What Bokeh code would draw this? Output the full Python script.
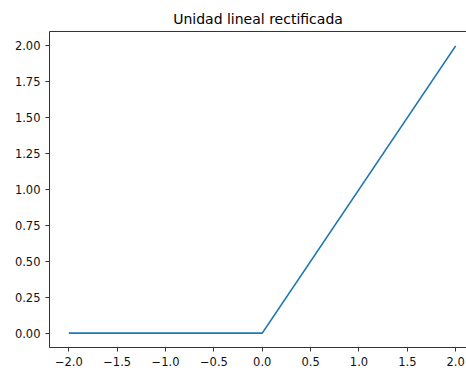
from bokeh.plotting import figure
from bokeh.models import LinearAxis, FixedTicker, CustomJSTickFormatter, Range1d
from bokeh.embed import file_html
from bokeh.resources import INLINE

# ReLU: f(x) = max(0, x) sampled at its breakpoints
x_vals = [-2.0, 0.0, 2.0]
y_vals = [0.0, 0.0, 2.0]

x_ticks = [-2.0, -1.5, -1.0, -0.5, 0.0, 0.5, 1.0, 1.5, 2.0]
x_labels = ["\u22122.0", "\u22121.5", "\u22121.0", "\u22120.5", "0.0", "0.5", "1.0", "1.5", "2.0"]
y_ticks = [0.0, 0.25, 0.5, 0.75, 1.0, 1.25, 1.5, 1.75, 2.0]
y_labels = ["0.00", "0.25", "0.50", "0.75", "1.00", "1.25", "1.50", "1.75", "2.00"]

FONT = "DejaVu Sans"
LABEL_CODE = """
const i = tvals.findIndex(t => Math.abs(t - tick) < 1e-9);
return i >= 0 ? tlabels[i] : "";
"""

p = figure(
    width=466, height=372,
    output_backend="svg", toolbar_location=None,
    x_range=Range1d(-2.2, 2.112), y_range=Range1d(-0.1, 2.1),
    min_border_left=49, min_border_right=0, min_border_top=31, min_border_bottom=25,
    x_axis_location="below", y_axis_location="left",
)
p.outline_line_color = None
p.grid.visible = False
p.background_fill_color = "white"
p.border_fill_color = "white"

p.title.text = "Unidad lineal rectificada"
p.title.align = "center"
p.title.offset = 4
p.title.text_font = FONT
p.title.text_font_size = "14px"
p.title.text_font_style = "normal"
p.title.text_color = "black"

p.line(x_vals, y_vals, line_color="#1f77b4", line_width=1.7)

for ax, ticks, labels in ((p.xaxis[0], x_ticks, x_labels), (p.yaxis[0], y_ticks, y_labels)):
    ax.ticker = FixedTicker(ticks=ticks)
    ax.formatter = CustomJSTickFormatter(args=dict(tvals=ticks, tlabels=labels), code=LABEL_CODE)
    ax.minor_tick_line_color = None
    ax.major_tick_in = 0
    ax.major_tick_out = 4
    ax.major_tick_line_color = "#333333"
    ax.axis_line_color = "#333333"
    ax.axis_line_width = 1
    ax.major_label_text_font = FONT
    ax.major_label_text_font_size = "11.5px"
    ax.major_label_text_color = "#111111"
    ax.major_label_standoff = 5
p.xaxis[0].major_label_standoff = 5

# top spine
top = LinearAxis(ticker=FixedTicker(ticks=[]), major_label_text_font_size="0px",
                 major_tick_out=0, major_tick_in=0, minor_tick_line_color=None,
                 axis_line_color="#333333")
p.add_layout(top, "above")

open("out.html", "w").write(file_html(p, INLINE))
